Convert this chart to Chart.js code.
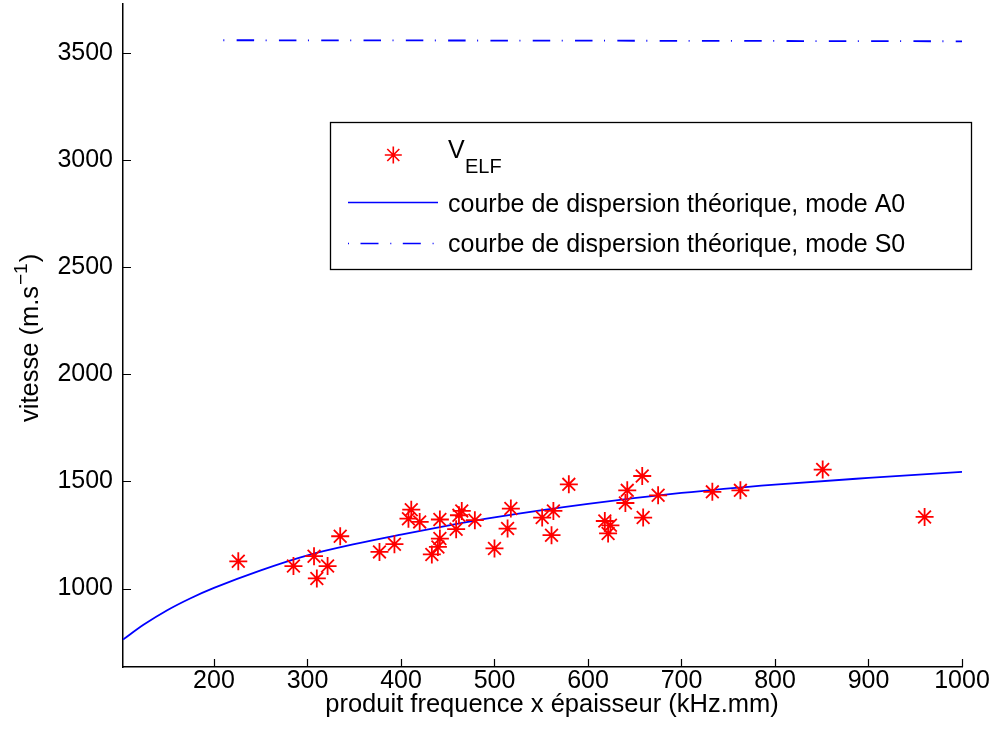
<!DOCTYPE html>
<html>
<head>
<meta charset="utf-8">
<title>vitesse ELF</title>
<script src="https://cdn.jsdelivr.net/npm/chart.js@4.4.0/dist/chart.umd.min.js"></script>
<style>
  html, body { margin: 0; padding: 0; background: #fff; }
  #wrap { width: 995px; height: 740px; }
</style>
</head>
<body>
<div id="wrap"><canvas id="chart" width="995" height="740"></canvas></div>
<script>
// mesures V_ELF (produit f x e, vitesse)
var elfX = [226, 285, 307, 310, 321.5, 335, 377, 393, 411, 408, 420, 433, 439.5, 441.6, 441.6, 459, 465, 462, 479, 500, 517.5, 514, 551, 563, 561, 579.5, 618, 624, 621.5, 642, 640, 658, 659, 675, 733, 763, 851, 960];
var elfY = [1127, 1105, 1151, 1047, 1105, 1244, 1171, 1207, 1368, 1326, 1311, 1159, 1194, 1233, 1322, 1277, 1362, 1342, 1319, 1187, 1373, 1280, 1331, 1362, 1249, 1486, 1315, 1295, 1257, 1458, 1399, 1525, 1331, 1435, 1451, 1458, 1555, 1334];

// courbe de dispersion theorique A0
var a0X = [102.7, 125, 150, 175, 200, 250, 300, 350, 400, 450, 500, 600, 700, 800, 900, 1000];
var a0Y = [762, 832, 899, 955, 1003, 1085, 1155, 1207, 1252, 1294, 1332, 1395, 1446, 1485, 1516, 1544];

// courbe de dispersion theorique S0
var s0X = [210, 600, 1000];
var s0Y = [3558, 3556, 3553];

var xTicks = [200, 300, 400, 500, 600, 700, 800, 900, 1000];
var yTicks = [1000, 1500, 2000, 2500, 3000, 3500];
var xMin = 102.7, xMax = 1000;
var yMin = 634, yMax = 3727;

var FONT = "'Liberation Sans', Arial, sans-serif";

function pts(xs, ys) {
    var out = [];
    for (var i = 0; i < xs.length; i++) out.push({x: xs[i], y: ys[i]});
    return out;
}

function drawStar(ctx, x, y, r) {
    ctx.beginPath();
    ctx.moveTo(x - r, y); ctx.lineTo(x + r, y);
    ctx.moveTo(x, y - r); ctx.lineTo(x, y + r);
    var d = r * Math.SQRT1_2;
    ctx.moveTo(x - d, y - d); ctx.lineTo(x + d, y + d);
    ctx.moveTo(x - d, y + d); ctx.lineTo(x + d, y - d);
    ctx.stroke();
}

var matlabDecor = {
    id: 'matlabDecor',
    afterDraw: function (chart) {
        var ctx = chart.ctx, a = chart.chartArea;
        var xs = chart.scales.x, ys = chart.scales.y;
        ctx.save();

        // ticks vers l'interieur
        ctx.strokeStyle = '#000';
        ctx.lineWidth = 1.2;
        ctx.beginPath();
        xTicks.forEach(function (v) {
            var px = Math.round(xs.getPixelForValue(v)) + 0.5;
            ctx.moveTo(px, a.bottom); ctx.lineTo(px, a.bottom - 8);
        });
        yTicks.forEach(function (v) {
            var py = Math.round(ys.getPixelForValue(v)) + 0.5;
            ctx.moveTo(a.left, py); ctx.lineTo(a.left + 8, py);
        });
        ctx.stroke();

        // titre axe x
        ctx.fillStyle = '#000';
        ctx.font = '25.5px ' + FONT;
        ctx.textAlign = 'center';
        ctx.textBaseline = 'alphabetic';
        ctx.fillText('produit frequence x épaisseur (kHz.mm)', 552, 712);

        // titre axe y avec exposant
        ctx.save();
        ctx.translate(38, 422);
        ctx.rotate(-Math.PI / 2);
        ctx.textAlign = 'left';
        ctx.font = '25.5px ' + FONT;
        var t1 = 'vitesse (m.s';
        ctx.fillText(t1, 0, 0);
        var w = ctx.measureText(t1).width;
        ctx.font = '19px ' + FONT;
        ctx.fillText('\u22121', w + 1, -11);
        var w2 = ctx.measureText('\u22121').width;
        ctx.font = '25.5px ' + FONT;
        ctx.fillText(')', w + w2 + 2, 0);
        ctx.restore();

        // legende
        var lx = 330.5, ly = 122.5, lw = 641, lh = 147;
        ctx.fillStyle = '#fff';
        ctx.fillRect(lx, ly, lw, lh);
        ctx.strokeStyle = '#000';
        ctx.lineWidth = 1.3;
        ctx.strokeRect(lx, ly, lw, lh);

        ctx.strokeStyle = '#ff0000';
        ctx.lineWidth = 1.6;
        drawStar(ctx, 393.3, 155, 8.5);

        ctx.strokeStyle = '#0000ff';
        ctx.lineWidth = 1.4;
        ctx.beginPath();
        ctx.moveTo(348, 202.5); ctx.lineTo(438, 202.5);
        ctx.stroke();
        ctx.setLineDash([1, 11.5, 18, 11.8]);
        ctx.beginPath();
        ctx.moveTo(348, 243.5); ctx.lineTo(438, 243.5);
        ctx.stroke();
        ctx.setLineDash([]);

        ctx.fillStyle = '#000';
        ctx.textAlign = 'left';
        ctx.font = '25px ' + FONT;
        ctx.fillText('V', 448, 158.3);
        ctx.font = '20px ' + FONT;
        ctx.fillText('ELF', 465, 172.7);
        ctx.font = '25px ' + FONT;
        ctx.fillText('courbe de dispersion théorique, mode A0', 448, 211.7);
        ctx.fillText('courbe de dispersion théorique, mode S0', 448, 251.7);

        ctx.restore();
    }
};

function plain(v) { return String(v); }

new Chart(document.getElementById('chart').getContext('2d'), {
    type: 'scatter',
    data: {
        datasets: [
            {
                label: 'V_ELF',
                data: pts(elfX, elfY),
                showLine: false,
                pointStyle: 'star',
                pointRadius: 9,
                pointBorderWidth: 1.8,
                pointBorderColor: '#ff0000',
                pointBackgroundColor: '#ff0000'
            }, {
                label: 'mode A0',
                data: pts(a0X, a0Y),
                showLine: true,
                borderColor: '#0000ff',
                borderWidth: 1.8,
                pointRadius: 0,
                cubicInterpolationMode: 'monotone'
            }, {
                label: 'mode S0',
                data: pts(s0X, s0Y),
                showLine: true,
                borderColor: '#0000ff',
                borderWidth: 1.8,
                borderDash: [1, 12.3, 17.5, 11.5],
                pointRadius: 0
            }
        ]
    },
    options: {
        responsive: false,
        animation: false,
        devicePixelRatio: 1,
        layout: { autoPadding: false, padding: { top: 4, right: 33, left: 0, bottom: 0 } },
        plugins: { legend: { display: false }, tooltip: { enabled: false } },
        scales: {
            x: {
                type: 'linear',
                min: xMin, max: xMax,
                grid: { display: true, drawOnChartArea: false, drawTicks: false },
                border: { display: true, color: '#000', width: 1.5 },
                ticks: { color: '#000', font: { family: FONT, size: 25 }, padding: -1, maxRotation: 0, callback: plain },
                afterBuildTicks: function (s) { s.ticks = xTicks.map(function (v) { return {value: v}; }); },
                afterFit: function (s) { s.height = 73; s.paddingLeft = 0; s.paddingRight = 0; }
            },
            y: {
                type: 'linear',
                min: yMin, max: yMax,
                grid: { display: true, drawOnChartArea: false, drawTicks: false },
                border: { display: true, color: '#000', width: 1.5 },
                ticks: { color: '#000', font: { family: FONT, size: 25 }, padding: 10, callback: plain },
                afterBuildTicks: function (s) { s.ticks = yTicks.map(function (v) { return {value: v}; }); },
                afterFit: function (s) { s.width = 123; s.paddingTop = 0; s.paddingBottom = 0; }
            }
        }
    },
    plugins: [matlabDecor]
});
</script>
</body>
</html>
